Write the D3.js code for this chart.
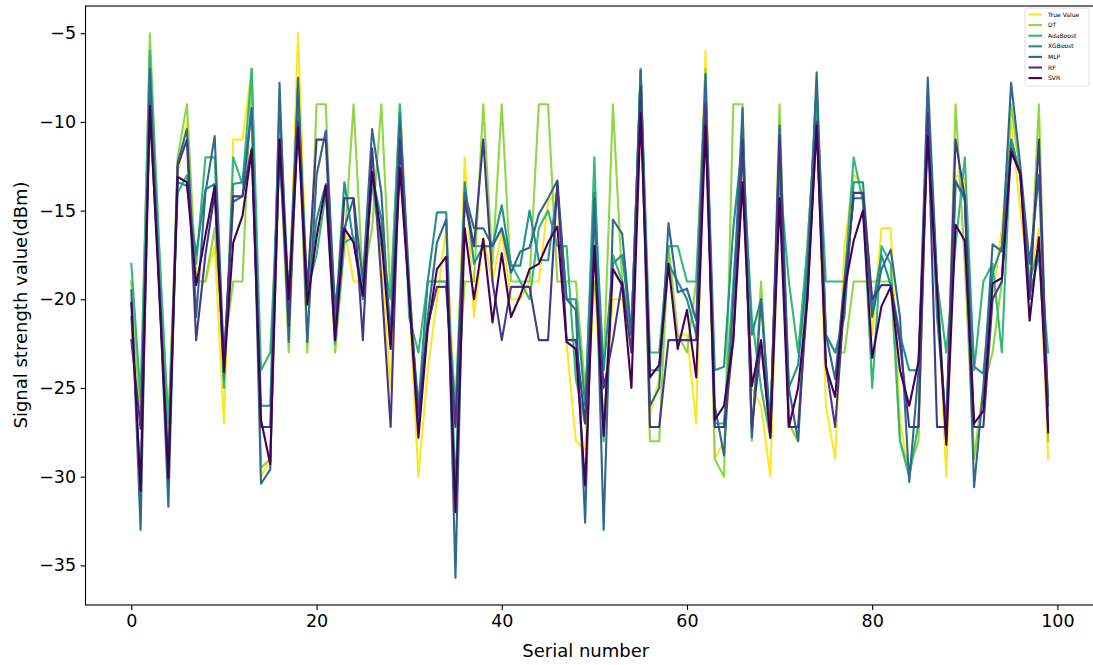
<!DOCTYPE html>
<html><head><meta charset="utf-8">
<script src="https://cdn.jsdelivr.net/npm/d3@7"></script>
<style>
html,body{margin:0;padding:0;background:#fff;}
svg{display:block;font-family:"DejaVu Sans",sans-serif;}
</style></head>
<body><svg id="c" width="1093" height="665"></svg>
<script>
const seriesNames = ["True Value","DT","AdaBoost","XGBoost","MLP","RF","SVR"];
const seriesColors = ["#fde725","#8fd744","#35b779","#21918c","#31688e","#443983","#440154"];
const xTicks = [0,20,40,60,80,100];
const yTicks = [-35,-30,-25,-20,-15,-10,-5];

const trueValue = [-19,-27,-7,-18,-27,-13,-10,-19,-19,-17,-27,-11,-11,-7,-30,-29,-11,-21,-5,-20,
 -13,-10.5,-23,-16,-19,-19,-13,-18,-25,-9,-20,-30,-24,-20,-16,-27,-12,-21,-16.5,-19,
 -16.2,-20,-20,-19,-19,-14.5,-14,-22.5,-28,-28.5,-19,-27,-20,-20,-23,-7,-26.5,-24.5,-17,-22,
 -22,-27,-6,-29,-28,-22,-13,-25,-26,-30,-13,-27,-28,-17,-9,-26,-29,-17,-13,-13.5,
 -22,-16,-16,-26.8,-30,-27,-9,-19,-30,-13,-13.2,-29,-25,-20,-16,-10,-15,-19,-16,-29];
const dt = [-19,-27,-5,-17,-28.5,-12,-9,-19,-19,-16,-23,-19,-19,-7,-29.5,-29,-11,-23,-9,-23,
 -9,-9,-23,-17,-9,-19,-16,-9,-20,-9,-19,-27,-19,-19,-19,-27,-19,-19,-9,-18,
 -9,-19,-19,-19,-9,-9,-19,-19,-19,-25,-19,-24,-9,-19,-22,-7,-28,-28,-17,-22,
 -23,-19,-7,-29,-30,-9,-9,-28,-19,-27.8,-9,-27,-28,-17,-9,-22,-23,-23,-19,-19,
 -19,-19,-19,-28,-29.5,-28,-9,-19,-28,-9,-18,-29,-25,-23,-19,-9,-13,-20,-9,-28];
const adaBoost = [-18,-25.5,-6,-17,-27,-14,-13,-18,-12,-12,-25,-12,-13.5,-7,-24,-23,-12,-20,-9,-19.5,
 -17.5,-14,-22.5,-16.8,-16.5,-19.5,-13.5,-17,-20,-9,-21,-23,-19,-19,-19,-26,-14,-17,-17,-17,
 -16,-18,-19,-20,-16,-15,-17,-17,-24.5,-27,-12,-28,-17.5,-19,-22,-7,-23,-23,-17,-17,
 -19,-19,-8,-27,-27,-19,-12,-21,-25,-27.8,-13,-19,-23,-17,-9,-19,-19,-19,-12,-14.5,
 -25,-17,-18,-28,-30,-27,-9,-19,-23,-17,-12,-24,-19,-18,-23,-11,-13,-19,-17,-23];
const xgBoost = [-21,-30.5,-7.3,-19,-30,-13.4,-13.6,-17.5,-13.8,-13.5,-24.5,-13.5,-13.4,-9.3,-26,-26,-9,-20,-8,-20,
 -15.5,-13.5,-21.5,-13.4,-16.8,-20,-13,-15.5,-22,-9.5,-20,-26,-19,-15.1,-15.1,-31,-13.4,-18,-17,-17,
 -14.7,-18.1,-18.1,-15,-17.8,-17.8,-13.8,-20,-20,-26,-14,-24,-18,-17.5,-22,-7.2,-24,-24,-18,-19,
 -20,-22,-8,-24,-23.8,-16,-11,-22,-20,-27,-12,-25,-23.7,-18,-8,-22,-23,-21,-13.4,-13.4,
 -20.5,-17.5,-19.2,-22,-24,-24,-9,-21,-27,-13.3,-14.4,-23.8,-24.2,-18.5,-17,-11,-13,-19.8,-17.5,-25.5];
const mlp = [-19.5,-33,-7,-19,-31.7,-12.3,-10.4,-21,-14,-10.8,-23.5,-14.5,-14.2,-9.2,-30.4,-29.6,-7.8,-22.4,-7.5,-22.4,
 -13,-10.5,-20.5,-16,-14.3,-19,-10.4,-14,-22.5,-10,-19,-27,-21,-16.8,-15.5,-35.7,-14,-16,-16,-17,
 -16,-18.5,-17.3,-17.1,-15.2,-14.3,-13.3,-20,-20.6,-32.6,-14.3,-33,-15.5,-16.3,-22,-7.1,-26,-25,-15.7,-19.6,
 -19.4,-21.2,-7.3,-26,-28.8,-20,-9.2,-27.8,-20,-27.5,-10.2,-25,-28,-19,-7.2,-22,-24.5,-19,-14.3,-14.3,
 -21,-18.3,-17.2,-21,-30.3,-24,-7.5,-19,-28,-13.4,-14.2,-30.6,-25,-16.9,-17.3,-7.8,-12.5,-18,-13,-26];
const rf = [-22.3,-27.3,-9.3,-19,-29.5,-12.5,-11,-22.3,-17.5,-14,-23.5,-14.2,-14.2,-11.5,-27.2,-27.2,-11,-21.5,-10,-19.5,
 -11,-11,-22.3,-14.3,-14.3,-22.3,-11.5,-19,-27.2,-11,-20,-26.5,-21.5,-19.3,-19.3,-27.2,-14.5,-17,-11,-19,
 -22.3,-19.3,-19.3,-19.3,-22.3,-22.3,-13.4,-22.3,-22.3,-27,-17,-25,-22.3,-19,-23,-8,-27.2,-27.2,-22.3,-22.3,
 -22.3,-22.3,-9,-27.2,-27.2,-22.3,-11,-27.2,-22.5,-27.5,-10.8,-27.2,-27.2,-20,-10,-23.7,-27.2,-20,-14,-14,
 -20,-19.2,-19.2,-22.5,-27.2,-27.2,-9.5,-27.2,-27.2,-11,-14.3,-27.2,-27.2,-20,-19,-11.5,-13,-20,-11,-27.2];
const svr = [-20.2,-30.8,-9.1,-19.5,-30.1,-13.1,-13.4,-19.2,-16.4,-13.6,-24.1,-16.8,-15.3,-11.6,-26.8,-29.3,-11,-20,-10.3,-20.3,
 -16.5,-13.6,-22.3,-16,-16.8,-19.8,-12.8,-16.5,-22.8,-12.6,-19.8,-27.8,-21.7,-18.3,-17.6,-32,-16,-20,-16.6,-21.3,
 -17.4,-21,-19.8,-18.3,-18,-16.8,-15.9,-22.4,-22.8,-30.5,-17,-27.7,-18.3,-19.2,-25,-9.5,-24.4,-23.7,-18,-22.8,
 -20.6,-24.4,-10.2,-26.8,-26,-22.3,-13.4,-24.9,-22.3,-27.8,-14.3,-27.2,-25,-20,-10.2,-23.8,-25.5,-19.5,-16.7,-15,
 -23.3,-20.4,-19.3,-24,-26,-23.5,-10.8,-19.5,-28.2,-15.8,-16.7,-27,-26.3,-19.1,-18.8,-11.7,-12.9,-21.2,-16.5,-27.5];

const seriesData = [trueValue, dt, adaBoost, xgBoost, mlp, rf, svr];

const svg = d3.select("#c");
const L = 85.5, R = 1094, T = 6, B = 605;
const x = d3.scaleLinear().domain([-4.95, 103.95]).range([L, R]);
const y = d3.scaleLinear().domain([-37.235, -3.465]).range([B, T]);

svg.append("defs").append("clipPath").attr("id","clip")
  .append("rect").attr("x",L).attr("y",T).attr("width",R-L).attr("height",B-T);

const line = d3.line().x((d,i)=>x(i)).y(d=>y(d));
const g = svg.append("g").attr("clip-path","url(#clip)");
seriesData.forEach((arr,k)=>{
  g.append("path").datum(arr).attr("d",line)
   .attr("fill","none").attr("stroke",seriesColors[k]).attr("stroke-width",2.1)
   .attr("stroke-linejoin","round").attr("stroke-linecap","square");
});

// axes
const xAxis = d3.axisBottom(x).tickValues(xTicks).tickSize(4.9).tickPadding(4.5);
const yAxis = d3.axisLeft(y).tickValues(yTicks).tickSize(4.9).tickPadding(4.5);
const gx = svg.append("g").attr("transform",`translate(0,${B})`).call(xAxis);
const gy = svg.append("g").attr("transform",`translate(${L},0)`).call(yAxis);
[gx,gy].forEach(a=>{
  a.select(".domain").remove();
  a.selectAll("text").attr("font-size",17.5).attr("font-family","DejaVu Sans").attr("fill","#000");
  a.selectAll("line").attr("stroke","#000").attr("stroke-width",1.1);
});

svg.append("rect").attr("x",L).attr("y",T).attr("width",R-L).attr("height",B-T)
  .attr("fill","none").attr("stroke","#000").attr("stroke-width",1.1);

svg.append("text").attr("x",(L+R)/2 - 4).attr("y",657).attr("text-anchor","middle")
  .attr("font-size",18).text("Serial number");
svg.append("text").attr("transform","translate(27,305) rotate(-90)").attr("text-anchor","middle")
  .attr("font-size",18).text("Signal strength value(dBm)");

// legend
const lg = svg.append("g").attr("transform","translate(1025,8)");
lg.append("rect").attr("x",0).attr("y",0).attr("width",64).attr("height",78).attr("rx",1.5)
  .attr("fill","#fff").attr("fill-opacity",0.8).attr("stroke","#d6d6d6").attr("stroke-width",0.8);
seriesNames.forEach((n,k)=>{
  const yy = 6.5 + k*10.6;
  lg.append("line").attr("x1",3.5).attr("x2",17).attr("y1",yy).attr("y2",yy)
    .attr("stroke",seriesColors[k]).attr("stroke-width",2.1);
  lg.append("text").attr("x",23).attr("y",yy+2).attr("font-size",6).attr("fill","#000").text(n);
});
</script></body></html>
